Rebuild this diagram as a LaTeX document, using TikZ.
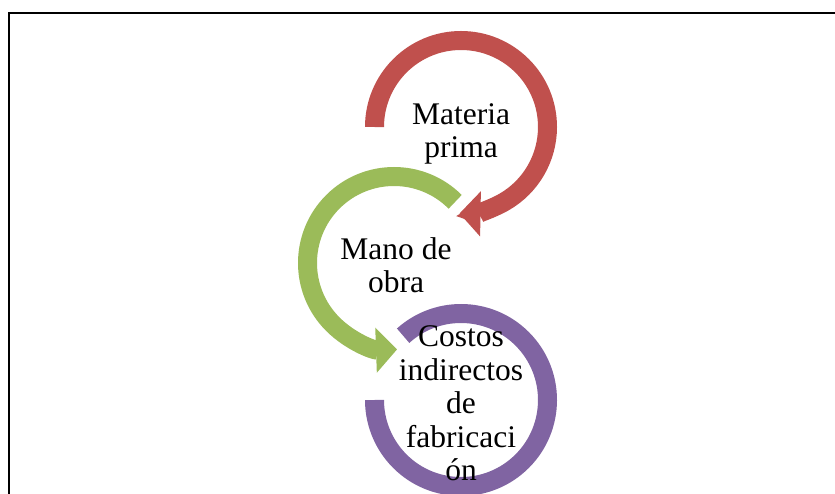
\documentclass[tikz,border=0pt]{standalone}
\usepackage{fontspec}
\setmainfont{Liberation Serif}
\usepackage{tikz}
\usetikzlibrary{arrows.meta}
\definecolor{rojo}{HTML}{C0504D}
\definecolor{verde}{HTML}{9BBB59}
\definecolor{morado}{HTML}{8064A2}
\tikzstyle{ring} = [line width=19pt]
\tikzstyle{head} = [-{Triangle[width=44pt,length=21pt]}]
\tikzstyle{txt} = [align=center, font=\fontsize{31.5}{33.5}\selectfont]
\tikzstyle{frame} = [line width=2.2pt]

\begin{document}
\begin{tikzpicture}[x=1pt,y=1pt]
                        \useasboundingbox (0,0) rectangle (835,493);
                        \coordinate (c1) at (461,366);
                        \coordinate (c2) at (394,230);
                        \coordinate (c3) at (461,93);
                        \coordinate (f1) at (9,-10);
                        \coordinate (f2) at (9,480);
                        \coordinate (f3) at (845,480);
                        \draw[frame] (f1) -- (f2) -- (f3);
                        \draw[ring, rojo, head] ([shift={(180:86.5)}]c1) arc[start angle=180, end angle=-91, radius=86.5];
                        \draw[ring, verde, head] ([shift={(45:86.5)}]c2) arc[start angle=45, end angle=272, radius=86.5];
                        \draw[ring, morado] ([shift={(132:86.5)}]c3) arc[start angle=132, end angle=-180, radius=86.5];
                        \node[txt] (mp) at ([yshift=-7pt]c1) {Materia\\prima};
                        \node[txt] (mo) at ([shift={(2pt,-2pt)}]c2) {Mano de\\obra};
                        \node[txt] (cif) at ([yshift=-3.5pt]c3) {Costos\\indirectos\\de\\fabricaci\\ón};
                    \end{tikzpicture}
\end{document}
